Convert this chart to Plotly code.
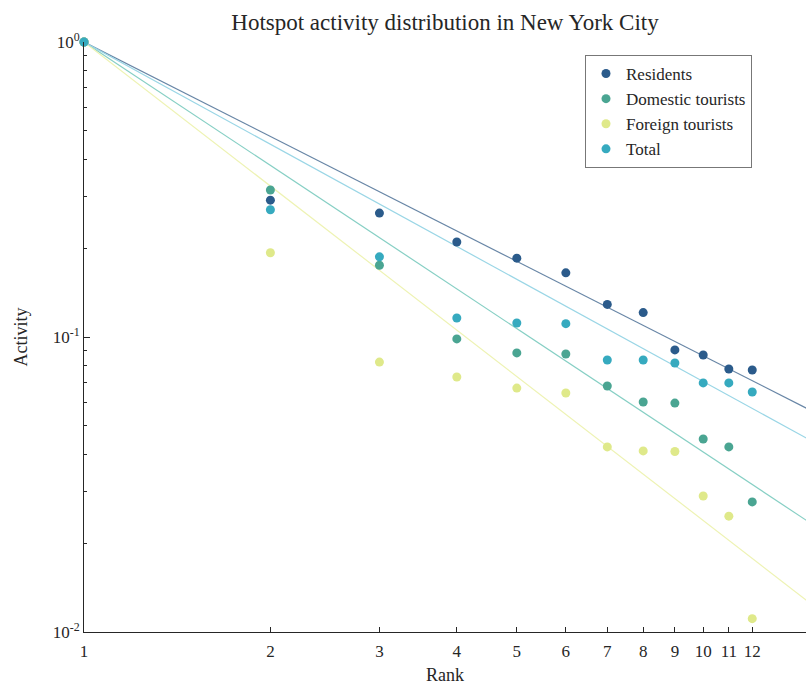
import plotly.graph_objects as go

ranks = [1, 2, 3, 4, 5, 6, 7, 8, 9, 10, 11, 12]
residents = [1.0, 0.291, 0.263, 0.210, 0.185, 0.165, 0.129, 0.121, 0.0904, 0.0869, 0.0779, 0.0773]
domestic = [1.0, 0.315, 0.175, 0.0985, 0.0883, 0.0876, 0.0682, 0.0602, 0.0597, 0.0451, 0.0424, 0.0276]
foreign = [1.0, 0.193, 0.0822, 0.0732, 0.0671, 0.0646, 0.0424, 0.0411, 0.0409, 0.0289, 0.0247, 0.0111]
total = [1.0, 0.270, 0.187, 0.116, 0.1115, 0.111, 0.0836, 0.0836, 0.0816, 0.0699, 0.0699, 0.0651]

# power-law fit exponents (activity ~ rank^-a)
fit_names = ["Residents", "Domestic tourists", "Foreign tourists", "Total"]
fit_exponents = [1.064, 1.390, 1.622, 1.151]
fit_x = [1, 16]

names = ["Residents", "Domestic tourists", "Foreign tourists", "Total"]
series = [residents, domestic, foreign, total]
marker_colors = ["#2b5b8b", "#4aa592", "#dfe98a", "#36aabf"]
line_colors = ["#6886a6", "#86cfc4", "#eef3b4", "#9ad6e6"]

fig = go.Figure()
for a, c in zip(fit_exponents, line_colors):
    fig.add_trace(go.Scatter(
        x=fit_x, y=[xv ** (-a) for xv in fit_x], mode="lines",
        line=dict(color=c, width=1.2), showlegend=False, hoverinfo="skip"))

for n, s, c in zip(names, series, marker_colors):
    fig.add_trace(go.Scatter(
        x=ranks, y=s, mode="markers", name=n,
        marker=dict(color=c, size=9, symbol="circle"), cliponaxis=False))

font_family = "Liberation Serif"
fig.update_layout(
    width=806, height=688,
    margin=dict(l=84, r=0, t=42, b=56),
    paper_bgcolor="white", plot_bgcolor="white",
    font=dict(family=font_family, size=17, color="#262626"),
    title=dict(text="Hotspot activity distribution in New York City",
               x=(84 + 806) / 2 / 806, xanchor="center", y=1 - 22 / 688, yanchor="middle",
               font=dict(size=23, family=font_family, color="#262626")),
    legend=dict(x=(585 - 84) / 722, y=(632 - 55) / 590, xanchor="left", yanchor="top",
                bordercolor="#777777", borderwidth=1, bgcolor="white",
                font=dict(size=17, family=font_family, color="#262626"),
                itemwidth=30, tracegroupgap=0),
    showlegend=True,
)
fig.update_xaxes(
    type="log", range=[0, 1.166],
    tickvals=ranks, ticktext=[str(r) for r in ranks],
    ticks="inside", ticklen=5, tickcolor="#262626", ticklabelstandoff=4,
    showline=True, linecolor="#262626", linewidth=1, mirror=False,
    showgrid=False, zeroline=False,
    title=dict(text="Rank", standoff=7, font=dict(size=18)),
)
fig.update_yaxes(
    type="log", range=[-2, 0],
    tickvals=[0.01, 0.1, 1], ticktext=["10<sup>-2</sup>", "10<sup>-1</sup>", "10<sup>0</sup>"],
    ticks="inside", ticklen=6, tickcolor="#262626",
    minor=dict(ticks="inside", ticklen=3, tickcolor="#262626",
               tickvals=[0.02, 0.03, 0.04, 0.05, 0.06, 0.07, 0.08, 0.09,
                         0.2, 0.3, 0.4, 0.5, 0.6, 0.7, 0.8, 0.9], showgrid=False),
    showline=True, linecolor="#262626", linewidth=1, mirror=False,
    showgrid=False, zeroline=False,
    title=dict(text="Activity", standoff=20, font=dict(size=18)),
)
fig.write_html("out.html")
